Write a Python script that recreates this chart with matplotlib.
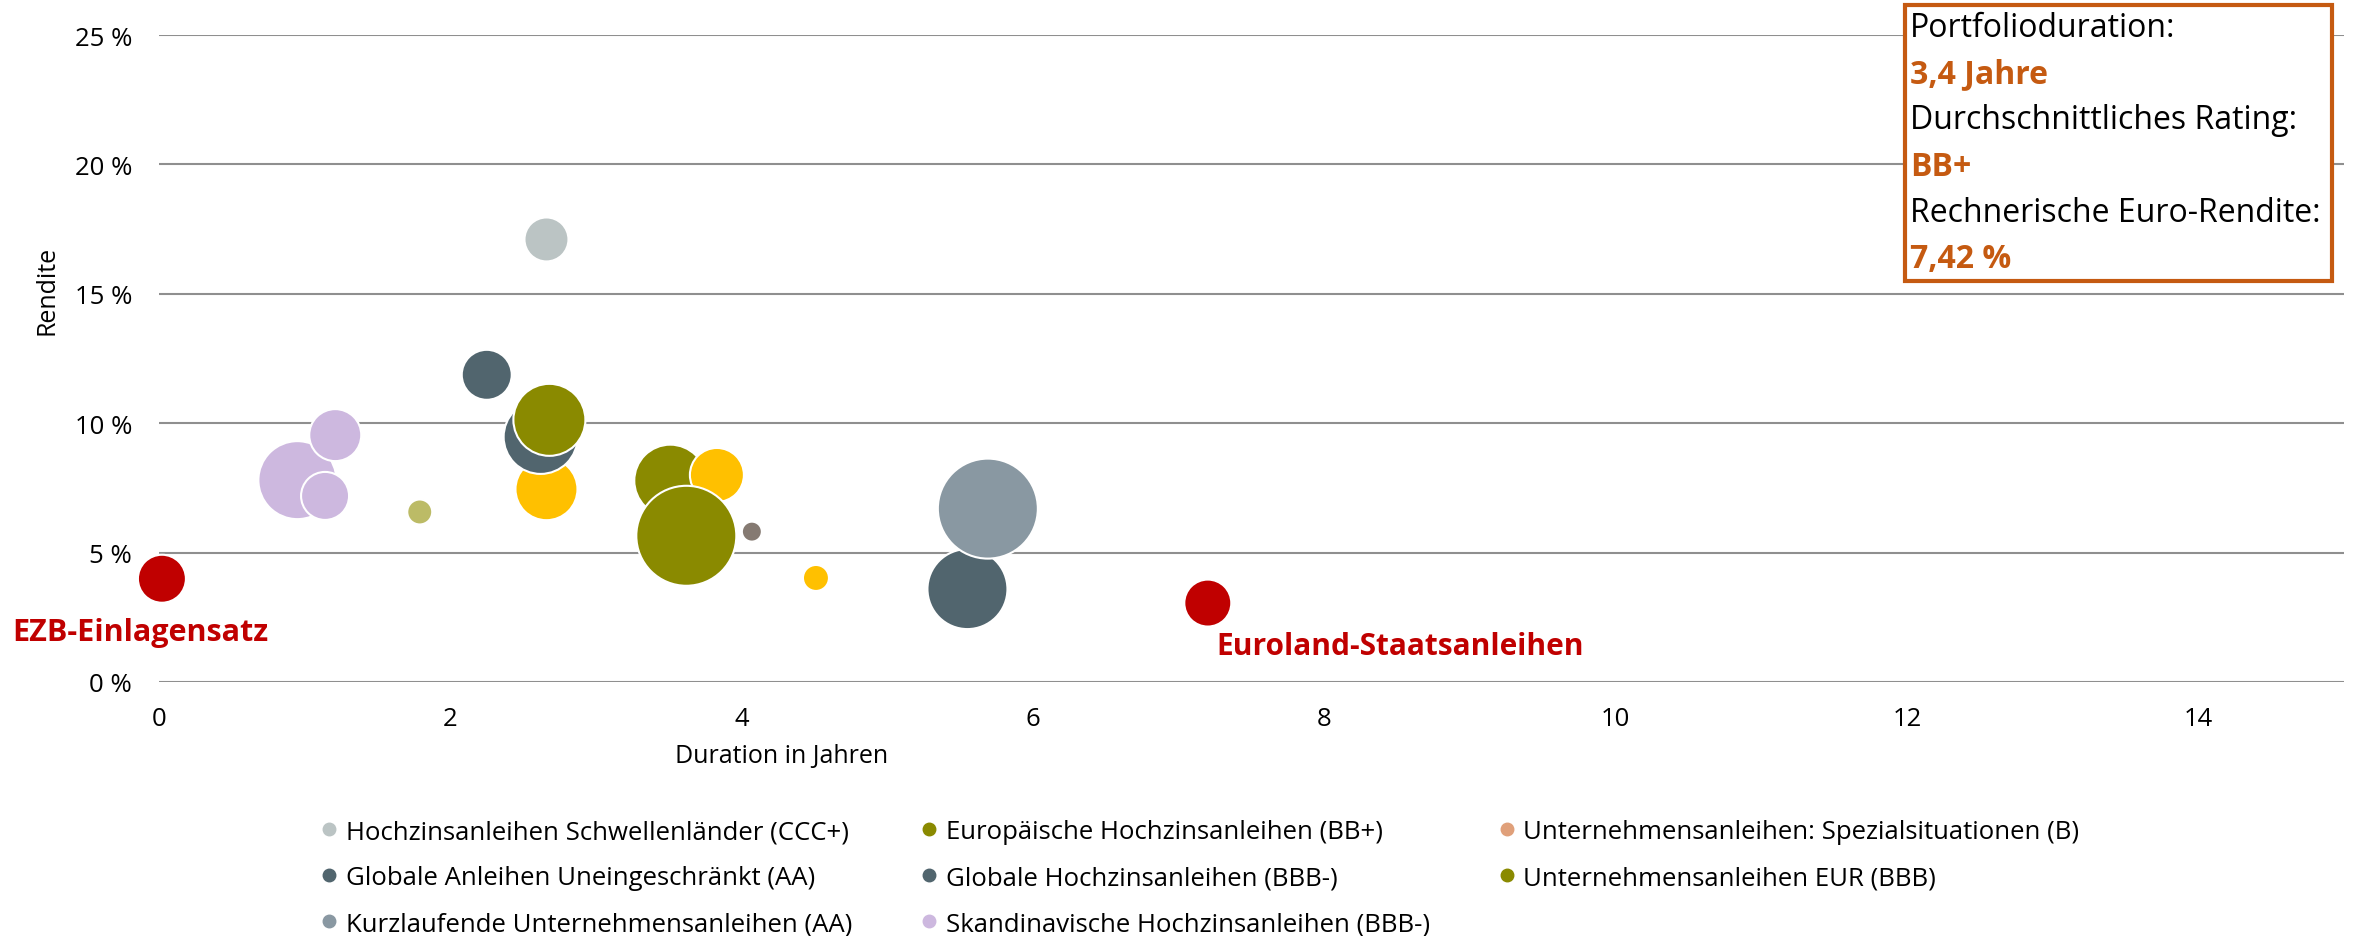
import matplotlib
matplotlib.use('Agg')
import matplotlib.pyplot as plt
from matplotlib.patches import Rectangle
from matplotlib.lines import Line2D
from matplotlib.ticker import FuncFormatter

plt.rcParams['font.family'] = ['Open Sans', 'DejaVu Sans']

W, H = 2353, 937
ORANGE = '#C55A11'
RED = '#C00000'

# bubbles, drawn in this order (later ones lie on top)
duration = [2.66, 2.62, 2.68, 0.95, 1.21, 1.14, 1.79, 3.51, 3.83, 3.62,
            4.07, 4.51, 5.55, 5.69, 2.25, 2.66, 0.02, 7.20]
rendite = [7.45, 9.47, 10.13, 7.80, 9.54, 7.19, 6.57, 7.78, 8.00, 5.65,
           5.81, 4.02, 3.59, 6.70, 11.87, 17.10, 3.99, 3.05]
weight = [31, 37, 36, 39, 26, 24, 12.5, 36, 27, 50,
          10, 13, 40, 50, 25, 22, 24, 23.5]
colour = ['#FFC000', '#51656E', '#8A8A00', '#CDB8DF', '#CDB8DF', '#CDB8DF',
          '#BCBB66', '#8A8A00', '#FFC000', '#8A8A00', '#857A72', '#FFC000',
          '#51656E', '#8998A2', '#51656E', '#BBC4C4', RED, RED]

legend_labels = ['Hochzinsanleihen Schwellenländer (CCC+)',
                 'Globale Anleihen Uneingeschränkt (AA)',
                 'Kurzlaufende Unternehmensanleihen (AA)',
                 'Europäische Hochzinsanleihen (BB+)',
                 'Globale Hochzinsanleihen (BBB-)',
                 'Skandinavische Hochzinsanleihen (BBB-)',
                 'Unternehmensanleihen: Spezialsituationen (B)',
                 'Unternehmensanleihen EUR (BBB)']
legend_colours = ['#BBC4C4', '#51656E', '#8998A2', '#8A8A00', '#51656E',
                  '#CDB8DF', '#E0A07A', '#8A8A00']

box_lines = [('Portfolioduration:', False), ('3,4 Jahre', True),
             ('Durchschnittliches Rating:', False), ('BB+', True),
             ('Rechnerische Euro-Rendite:', False), ('7,42 %', True)]

fig = plt.figure(figsize=(W / 100, H / 100), dpi=100)
ax = fig.add_axes([159 / W, 1 - 683 / H, 2185 / W, 647 / H])

sizes = [(2 * r * 0.72) ** 2 for r in weight]
ax.scatter(duration, rendite, s=sizes, c=colour, edgecolors='white',
           linewidths=1.5, zorder=3, clip_on=False)

ax.set_xlim(0, 15)
ax.set_ylim(0, 25)
ax.set_xticks(range(0, 15, 2))
ax.set_yticks(range(0, 26, 5))
ax.yaxis.set_major_formatter(FuncFormatter(lambda v, p: f'{int(v)} %'))
ax.grid(axis='y', color='#8f8f8f', lw=1.5)
ax.set_axisbelow(True)
for s in ax.spines.values():
    s.set_visible(False)
ax.tick_params(length=0, labelsize=18.5)
ax.tick_params(axis='y', pad=19.5)
ax.tick_params(axis='x', pad=17)

ax.set_ylabel('Rendite', fontsize=18)
ax.yaxis.set_label_coords(-0.0455, 0.607)
ax.set_xlabel('Duration in Jahren', fontsize=18)
ax.xaxis.set_label_coords(0.285, -0.094)

ax.text(-0.13, 1.95, 'EZB-Einlagensatz', color=RED, fontsize=22,
        fontweight='bold', ha='center', va='center')
ax.text(8.52, 1.38, 'Euroland-Staatsanleihen', color=RED, fontsize=21.5,
        fontweight='bold', ha='center', va='center')

# info box top right
fig.patches.append(Rectangle((1905 / W, 1 - 282 / H), 427 / W, 276 / H,
                             transform=fig.transFigure, facecolor='white',
                             edgecolor=ORANGE, lw=3, zorder=5))
for i, (txt, bold) in enumerate(box_lines):
    fig.text(1910 / W, 1 - (37 + 46.2 * i) / H, txt, fontsize=23,
             color=ORANGE if bold else 'black',
             fontweight='bold' if bold else 'normal', va='baseline', zorder=6)

handles = [Line2D([], [], ls='none', marker='o', ms=9, color=c)
           for c in legend_colours]
fig.legend(handles, legend_labels, ncol=3, loc='upper left',
           bbox_to_anchor=(296 / W, 1 - 797 / H), frameon=False,
           fontsize=18.5, handletextpad=0.24, columnspacing=2.6,
           labelspacing=0.82, handlelength=0.8)

fig.savefig('out.png', dpi=100)
